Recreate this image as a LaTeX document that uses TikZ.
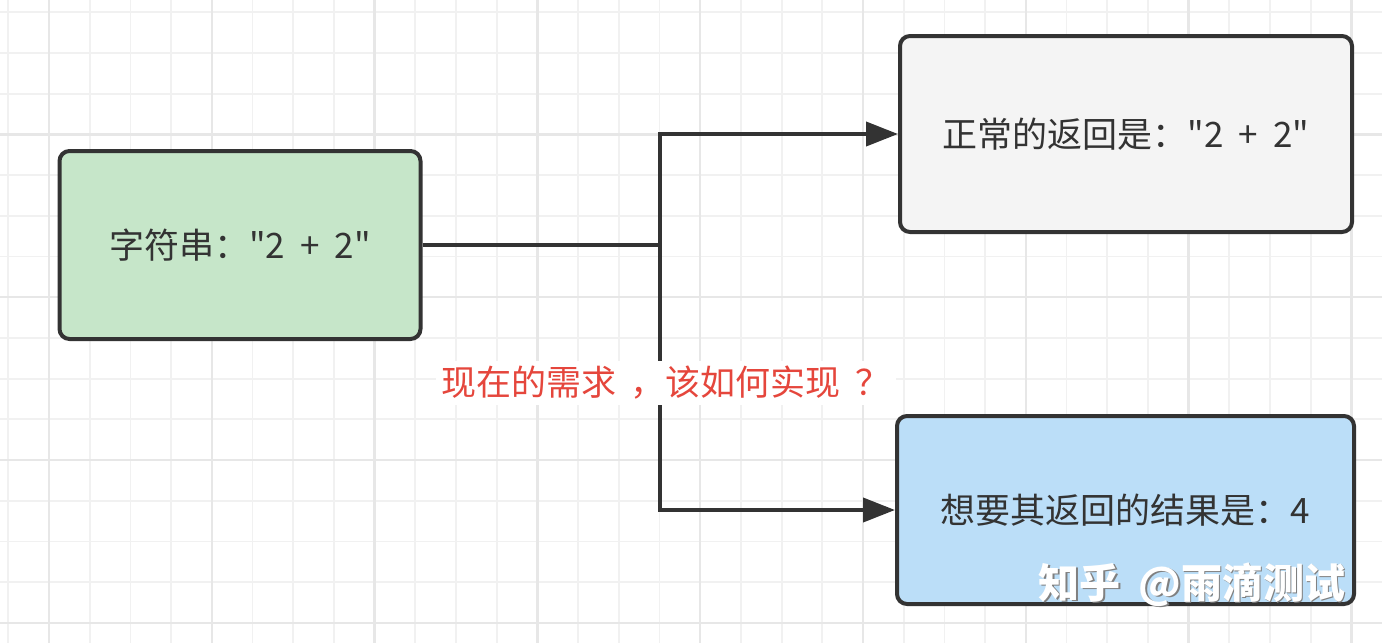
\documentclass[tikz,border=0pt]{standalone}
\usepackage{fontspec}
\newfontfamily\cjk{Noto Sans CJK SC}[WordSpace=1.9]
\usetikzlibrary{arrows.meta,positioning}
\definecolor{gridminor}{HTML}{F1F1F1}
\definecolor{gridmajor}{HTML}{E7E7E7}
\definecolor{inkdark}{HTML}{333333}
\definecolor{stringfill}{HTML}{C6E6C9}
\definecolor{normalfill}{HTML}{F4F4F4}
\definecolor{wantfill}{HTML}{BBDEF8}
\definecolor{asktext}{HTML}{E5463C}

\begin{document}
\begin{tikzpicture}[x=1pt, y=-1pt,
    every node/.style={font=\cjk\fontsize{35}{42}\selectfont, text=inkdark},
    box/.style={draw=inkdark, line width=4pt, rounded corners=10pt},
    link/.style={draw=inkdark, line width=4pt},
    linkarrow/.style={link, -{Triangle[length=32pt,width=24pt]}}
  ]
  \useasboundingbox (0,0) rectangle (1382,643);
  \fill[white] (0,0) rectangle (1382,643);
  % grid
  \foreach \k in {0,...,33}
    \draw[gridminor, line width=1.8pt] ({8.3+40.7*\k},0) -- ({8.3+40.7*\k},643);
  \foreach \k in {0,...,15}
    \draw[gridminor, line width=1.8pt] (0,{12.3+40.7*\k}) -- (1382,{12.3+40.7*\k});
  \foreach \k in {1,5,...,33}
    \draw[gridmajor, line width=2.4pt] ({8.3+40.7*\k},0) -- ({8.3+40.7*\k},643);
  \foreach \k in {3,7,...,15}
    \draw[gridmajor, line width=2.4pt] (0,{12.3+40.7*\k}) -- (1382,{12.3+40.7*\k});

  % boxes
  \node[box, fill=stringfill, minimum width=361pt, minimum height=188pt] (str) at (240,245) {字符串："2 + 2"};
  \node[box, fill=normalfill, minimum width=452pt, minimum height=196pt] (normal) at (1126,134) {正常的返回是："2 + 2"};
  \node[box, fill=wantfill, minimum width=457pt, minimum height=188pt] (want) at (1125.5,510) {想要其返回的结果是：4};

  % connectors
  \coordinate (split) at (660,245);
  \draw[link] (str.east) -- (split);
  \draw[linkarrow] (split) |- (normal.west);
  \draw[linkarrow] (split) |- (want.west);
  \node[fill=white, text=asktext, inner sep=5pt] (ask) at (666,383) {现在的需求 ，该如何实现 ？};

  % watermark
  \node[font=\cjk\fontsize{41}{48}\selectfont\bfseries, text=black!50, inner sep=0pt, anchor=base east] (markshade) at (1347,599.5) {知乎 @雨滴测试};
  \node[font=\cjk\fontsize{41}{48}\selectfont\bfseries, text=white, inner sep=0pt, anchor=base east] (mark) at (1345.5,598) {知乎 @雨滴测试};
\end{tikzpicture}
\end{document}
